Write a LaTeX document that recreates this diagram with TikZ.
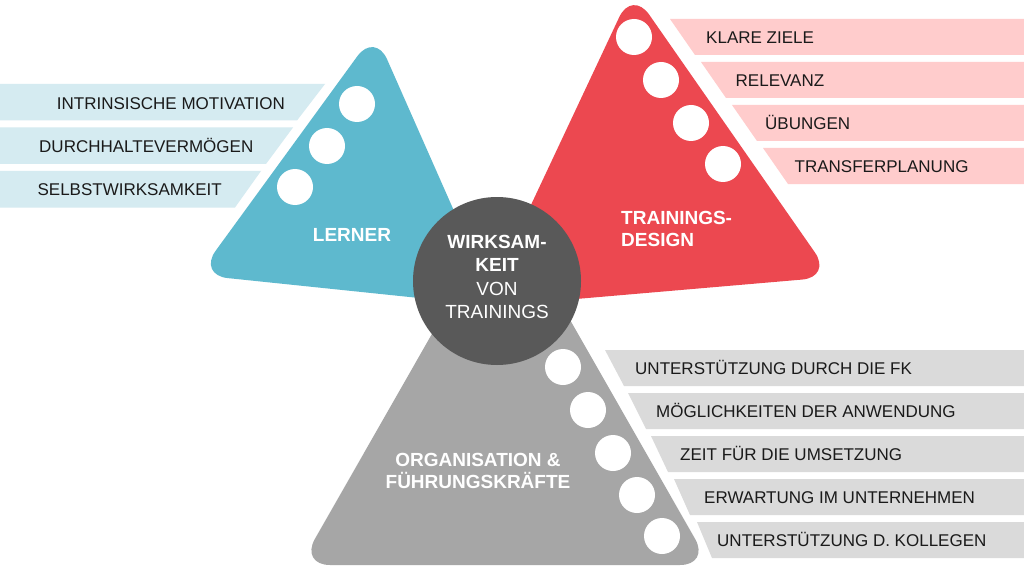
\documentclass[tikz,border=0pt]{standalone}
\usepackage{fontspec}
\setmainfont{Liberation Sans}
\usepackage{xcolor}
\usepackage{tikz}

\definecolor{lernerblue}{RGB}{94,185,206}
\definecolor{lernerband}{RGB}{213,235,241}
\definecolor{designred}{RGB}{236,72,80}
\definecolor{designband}{RGB}{255,204,204}
\definecolor{orggray}{RGB}{166,166,166}
\definecolor{orgband}{RGB}{218,218,218}
\definecolor{coregray}{RGB}{89,89,89}
\definecolor{textblack}{RGB}{26,26,26}

\begin{document}
\begin{tikzpicture}[
    x=1pt, y=-1pt,
    band/.style={inner sep=0pt, text height=12.2pt, text depth=0pt, font=\fontsize{17}{20}\selectfont, text=textblack},
    dot/.style={circle, fill=white, minimum size=36pt, inner sep=0pt},
    title/.style={inner sep=0pt, font=\fontsize{19}{22}\selectfont\bfseries, text=white},
    tri/.style={rounded corners=30pt}
]
\useasboundingbox (0,0) rectangle (1024,572);
\fill[white] (0,0) rectangle (1024,572);

% bands
\foreach \i/\txt in {0/INTRINSISCHE MOTIVATION, 1/DURCHHALTEVERMÖGEN, 2/SELBSTWIRKSAMKEIT} {
  \fill[lernerband] (0,84+43.5*\i) -- (325-32*\i,84+43.5*\i) -- (297-31*\i,120.5+43.5*\i) -- (0,120.5+43.5*\i) -- cycle;
  \node[band, anchor=east] (lerner\i) at (285-31.5*\i,103+43*\i) {\txt};
}
\foreach \i/\txt in {0/KLARE ZIELE, 1/RELEVANZ, 2/ÜBUNGEN, 3/TRANSFERPLANUNG} {
  \fill[designband] (670+31*\i,19+43*\i) -- (1024,19+43*\i) -- (1024,55+43*\i) -- (695+31*\i,55+43*\i) -- cycle;
  \node[band, anchor=west] (design\i) at (706+29.5*\i,37+43*\i) {\txt};
}
\foreach \i/\tx/\txt in {0/635/UNTERSTÜTZUNG DURCH DIE FK, 1/656/MÖGLICHKEITEN DER ANWENDUNG,
    2/680/ZEIT FÜR DIE UMSETZUNG, 3/704/ERWARTUNG IM UNTERNEHMEN, 4/717/UNTERSTÜTZUNG D. KOLLEGEN} {
  \fill[orgband] (605+23*\i,350+43*\i) -- (1024,350+43*\i) -- (1024,386+43*\i) -- (624+22*\i,386+43*\i) -- cycle;
  \node[band, anchor=west] (org\i) at (\tx,368.5+43*\i) {\txt};
}

% triangles
\fill[orggray, tri] (505,206) -- (710,565) -- (300,565) -- cycle;
\fill[lernerblue, tri] (375,32) -- (496,306) -- (198,275) -- cycle;
\fill[designred, tri] (632,-10) -- (832,277) -- (483,307) -- cycle;

% dots
\foreach \p [count=\k] in {(357,104),(327,146),(295,187)}
  \node[dot] (ldot\k) at \p {};
\foreach \p [count=\k] in {(634,37),(661,80),(691,123),(723,164)}
  \node[dot] (ddot\k) at \p {};
\foreach \p [count=\k] in {(563,367),(588,410),(613,453),(637,495),(662,536)}
  \node[dot] (odot\k) at \p {};

% centre
\node[circle, fill=coregray, minimum size=168pt, inner sep=0pt] (core) at (497,281) {};
\node[title, align=center, font=\fontsize{19}{23.3}\selectfont] (coretext) at (497,277)
  {\textbf{WIRKSAM-}\\\textbf{KEIT}\\VON\\TRAININGS};

% labels
\node[title, text height=13.6pt, text depth=0pt] (lerner) at (352,235) {LERNER};
\node[title, align=left, anchor=west] (design) at (621,229) {TRAININGS-\\DESIGN};
\node[title, align=center] (org) at (478,471) {ORGANISATION \&\\FÜHRUNGSKRÄFTE};

\end{tikzpicture}
\end{document}
